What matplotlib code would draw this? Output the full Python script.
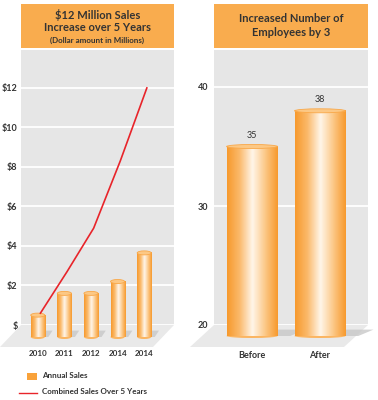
import numpy as np
import matplotlib.pyplot as plt
from matplotlib.patches import Polygon, Ellipse, Rectangle
from matplotlib.colors import LinearSegmentedColormap
import matplotlib.transforms as mtransforms

plt.rcParams['font.family'] = ['Lato', 'DejaVu Sans']

# Data
years = ['2010', '2011', '2012', '2014', '2014']
annual_sales = [0.5, 1.6, 1.6, 2.2, 3.65]
combined_sales = [0.6, 2.7, 4.9, 8.3, 12.0]
sales_ticks = [0, 2, 4, 6, 8, 10, 12]
sales_tick_labels = ['$', '$2', '$4', '$6', '$8', '$10', '$12']

groups = ['Before', 'After']
employees = [35, 38]
emp_ticks = [20, 30, 40]

ORANGE = '#f9ac4e'
WALL = '#e6e6e6'
FLOOR = '#e9e9e9'
TEXT = '#333333'
RED = '#e8242a'

W, H = 378, 400
fig = plt.figure(figsize=(W / 100, H / 100), dpi=100)

bar_cmap = LinearSegmentedColormap.from_list(
    'cyl', ['#f79a2e', '#fbbb6e', '#fff6ea', '#fcc989', '#f79a2e'])
grad = np.linspace(0, 1, 64).reshape(1, -1)


def px_axes(x0, y0, x1, y1):
    # pixel box (top-left origin) -> axes
    return fig.add_axes([x0 / W, 1 - y1 / H, (x1 - x0) / W, (y1 - y0) / H])


def cylinder(ax, x, width, bottom, top, cap_h):
    ax.imshow(grad, cmap=bar_cmap, aspect='auto', interpolation='bilinear',
              extent=[x - width / 2, x + width / 2, bottom, top],
              zorder=4, clip_on=False)
    ax.add_patch(Ellipse((x, bottom), width, cap_h, facecolor='#fbb561',
                         edgecolor='none', zorder=3.9, clip_on=False))
    ax.add_patch(Ellipse((x, top), width, cap_h, facecolor='#fcc885',
                         edgecolor='#f9a849', lw=0.6, zorder=5, clip_on=False))
    # shadow on floor
    ax.add_patch(Polygon([(x + width * 0.3, bottom), (x + width * 0.75, bottom),
                          (x + width * 1.05, bottom + cap_h * 1.6),
                          (x + width * 0.5, bottom + cap_h * 1.6)],
                         closed=True, facecolor='#c8c8c8', edgecolor='none',
                         alpha=0.8, zorder=3.5, clip_on=False))


def panel(ax, shift_px, depth_px, wall_w_px, wall_h_px, pad):
    ax.set_facecolor(WALL)
    for s in ax.spines.values():
        s.set_visible(False)
    dx = shift_px / wall_w_px
    dy = depth_px / wall_h_px
    ax.add_patch(Polygon([(0, 0), (1, 0), (1 - dx, -dy), (-dx, -dy)],
                         closed=True, transform=ax.transAxes, facecolor=FLOOR,
                         edgecolor='none', clip_on=False, zorder=1))
    ax.grid(axis='y', color='white', lw=1.3, zorder=2)
    ax.set_axisbelow(True)
    ax.tick_params(length=0, labelsize=6.5, labelcolor=TEXT, pad=pad)
    for lbl in ax.get_yticklabels():
        lbl.set_fontweight('bold')
    ax.set_xticks([])


def header(x0, x1, lines):
    hx = fig.add_axes([x0 / W, 1 - 48 / H, (x1 - x0) / W, 44 / H])
    hx.set_facecolor(ORANGE)
    hx.set_xticks([])
    hx.set_yticks([])
    for s in hx.spines.values():
        s.set_visible(False)
    for y, txt, size in lines:
        hx.text(0.5, y, txt, ha='center', va='center', fontsize=size,
                fontweight='bold', color=TEXT, transform=hx.transAxes)


# ---- Left panel: sales ----
ax1 = px_axes(21, 50, 174, 325)
xs = np.arange(len(years))
ax1.set_xlim(-0.63, 5.12)
ax1.set_ylim(0, 13.92)
ax1.set_yticks(sales_ticks)
ax1.set_yticklabels(sales_tick_labels)
panel(ax1, 21, 22, 153, 275, 2.5)
ax1.set_xticks([])
cap1 = 4 / 19.75
base1 = -12 / 19.75
for x, v in zip(xs, annual_sales):
    cylinder(ax1, x, 0.53, base1, v, cap1)
ax1.plot(xs + 0.1, combined_sales, color=RED, lw=1.2, zorder=6, clip_on=False)
for x, y in zip(xs, years):
    ax1.text(x, -0.103, y, transform=mtransforms.blended_transform_factory(
        ax1.transData, ax1.transAxes), ha='center', va='center',
        fontsize=5.8, fontweight='bold', color=TEXT)

header(21, 174, [(0.75, '$12 Million Sales', 8),
                 (0.47, 'Increase over 5 Years', 8),
                 (0.18, '(Dollar amount in Millions)', 5.8)])

# ---- Right panel: employees ----
ax2 = px_axes(214, 50, 368, 325)
xe = np.arange(len(groups))
ax2.set_xlim(-0.56, 1.706)
ax2.set_ylim(20, 20 + 275 / 11.9)
ax2.set_yticks(emp_ticks)
panel(ax2, 24, 22, 154, 275, 4)
ax2.set_xticks([])
cap2 = 4 / 11.9
base2 = 20 - 11 / 11.9
for x, v in zip(xe, employees):
    cylinder(ax2, x, 0.75, base2, v, cap2)
    ax2.text(x, v + 0.55, str(v), ha='center', va='bottom', fontsize=6.5,
             color=TEXT)
for x, g in zip(xe, groups):
    ax2.text(x, -0.11, g, transform=mtransforms.blended_transform_factory(
        ax2.transData, ax2.transAxes), ha='center', va='center',
        fontsize=6.5, fontweight='bold', color=TEXT)

header(214, 368, [(0.66, 'Increased Number of', 8),
                  (0.36, 'Employees by 3', 8)])

# ---- Legend ----
fig.patches.append(Rectangle((27 / W, 1 - 380 / H), 10 / W, 7 / H,
                             transform=fig.transFigure, facecolor='#f9a23a',
                             edgecolor='none'))
fig.text(42 / W, 1 - 376 / H, 'Annual Sales', fontsize=5.8, fontweight='bold',
         color=TEXT, va='center')
fig.lines.append(plt.Line2D([19 / W, 37 / W], [1 - 393 / H, 1 - 393 / H],
                            transform=fig.transFigure, color=RED, lw=1.0))
fig.text(42 / W, 1 - 392 / H, 'Combined Sales Over 5 Years', fontsize=5.8,
         fontweight='bold', color=TEXT, va='center')

fig.savefig('out.png', dpi=100, facecolor='white')
